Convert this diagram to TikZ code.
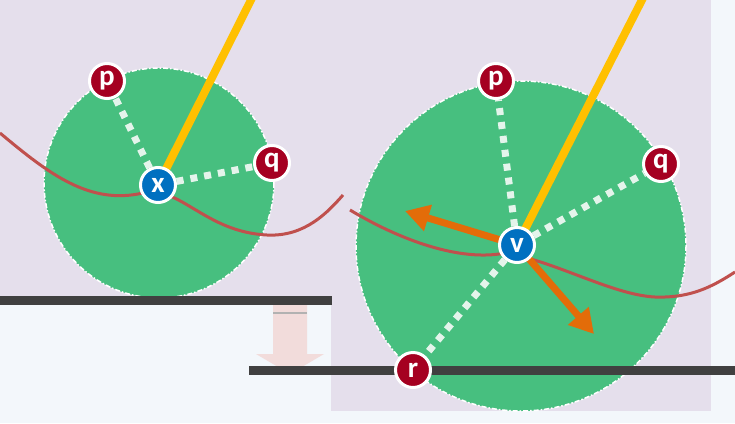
\documentclass[tikz,border=0pt]{standalone}
\usepackage{fontspec}
\newfontfamily\nodefont{Carlito}
\usetikzlibrary{arrows.meta}
\pgfdeclarelayer{bg}
\pgfsetlayers{bg,main}
\definecolor{bgblue}{HTML}{F3F7FB}
\definecolor{lavender}{HTML}{E5DFEC}
\definecolor{disk}{HTML}{47BF7F}
\definecolor{barc}{HTML}{404040}
\definecolor{pinkarrow}{HTML}{F2DCDB}
\definecolor{redcurve}{HTML}{C0504D}
\definecolor{yel}{HTML}{FFC000}
\definecolor{orng}{HTML}{E36C09}
\definecolor{ptred}{HTML}{A50021}
\definecolor{ptblue}{HTML}{0070C0}
\definecolor{mint}{HTML}{E4F4EB}
\tikzset{
  pt/.style={circle, fill=ptred, draw=white, line width=3pt, minimum size=35pt, inner sep=0pt,
    text=white, font=\nodefont\bfseries\fontsize{29}{29}\selectfont},
  ctr/.style={pt, fill=ptblue},
  disc/.style={fill=disk, draw=white, line width=1.5pt, dash pattern=on 5pt off 2pt on 1.5pt off 2pt},
  sq/.style={draw=mint, line width=7pt, dash pattern=on 7pt off 7pt},
  yline/.style={draw=yel, line width=8pt},
  rline/.style={draw=redcurve, line width=3pt},
  oarrow/.style={draw=orng, line width=7pt, -{Triangle[length=24pt,width=26pt]}},
}
\begin{document}
\begin{tikzpicture}[x=1pt,y=-1pt]
\useasboundingbox (0,0) rectangle (735,423);
% nodes
\node[pt] (p1) at (107,81) {p};
\node[pt] (q1) at (272,163) {q};
\node[ctr] (x) at (158,185) {x};
\node[pt] (p2) at (496,81) {p};
\node[pt] (q2) at (661,164) {q};
\node[pt] (r2) at (413,370) {r};
\node[ctr] (v) at (517,245) {v};
\coordinate (y1) at (253,-4);
\coordinate (y2) at (644,-4);
\coordinate (a1) at (405,211);
\coordinate (a2) at (594,334);
\begin{pgfonlayer}{bg}
% backgrounds
\fill[bgblue] (0,0) rectangle (735,423);
\fill[lavender] (0,0) rectangle (332,300);
\fill[lavender] (331,0) rectangle (711,411);
% left scene
\path[disc] (159,183) circle[radius=115];
\draw[rline] (0,133) .. controls (50,175) and (90,205) .. (143,193)
  .. controls (180,185) and (205,232) .. (267,235)
  .. controls (305,237) and (328,212) .. (343,195);
% right scene
\path[disc] (521,246) circle[radius=165];
\draw[rline] (350,210) .. controls (400,240) and (460,262) .. (505,253)
  .. controls (560,262) and (620,300) .. (665,297)
  .. controls (695,296) and (715,285) .. (735,272);
% bars and pink arrow
\fill[barc] (0,296) rectangle (332,305);
\fill[pinkarrow] (273,305) -- (307,305) -- (307,354) -- (324,354) -- (290,374) -- (256,354) -- (273,354) -- cycle;
\draw[gray!60, line width=1.5pt] (273,313) -- (307,313);
\fill[barc] (249,366) rectangle (735,375);
% connectors
\draw[yline] (x.center) -- (y1);
\draw[sq] (x) -- (p1);
\draw[sq] (x) -- (q1);
\draw[yline] (v.center) -- (y2);
\draw[sq] (v) -- (p2);
\draw[sq] (v) -- (q2);
\draw[sq] (v) -- (r2);
\draw[oarrow] (v.center) -- (a1);
\draw[oarrow] (v.center) -- (a2);
\end{pgfonlayer}
\end{tikzpicture}
\end{document}
